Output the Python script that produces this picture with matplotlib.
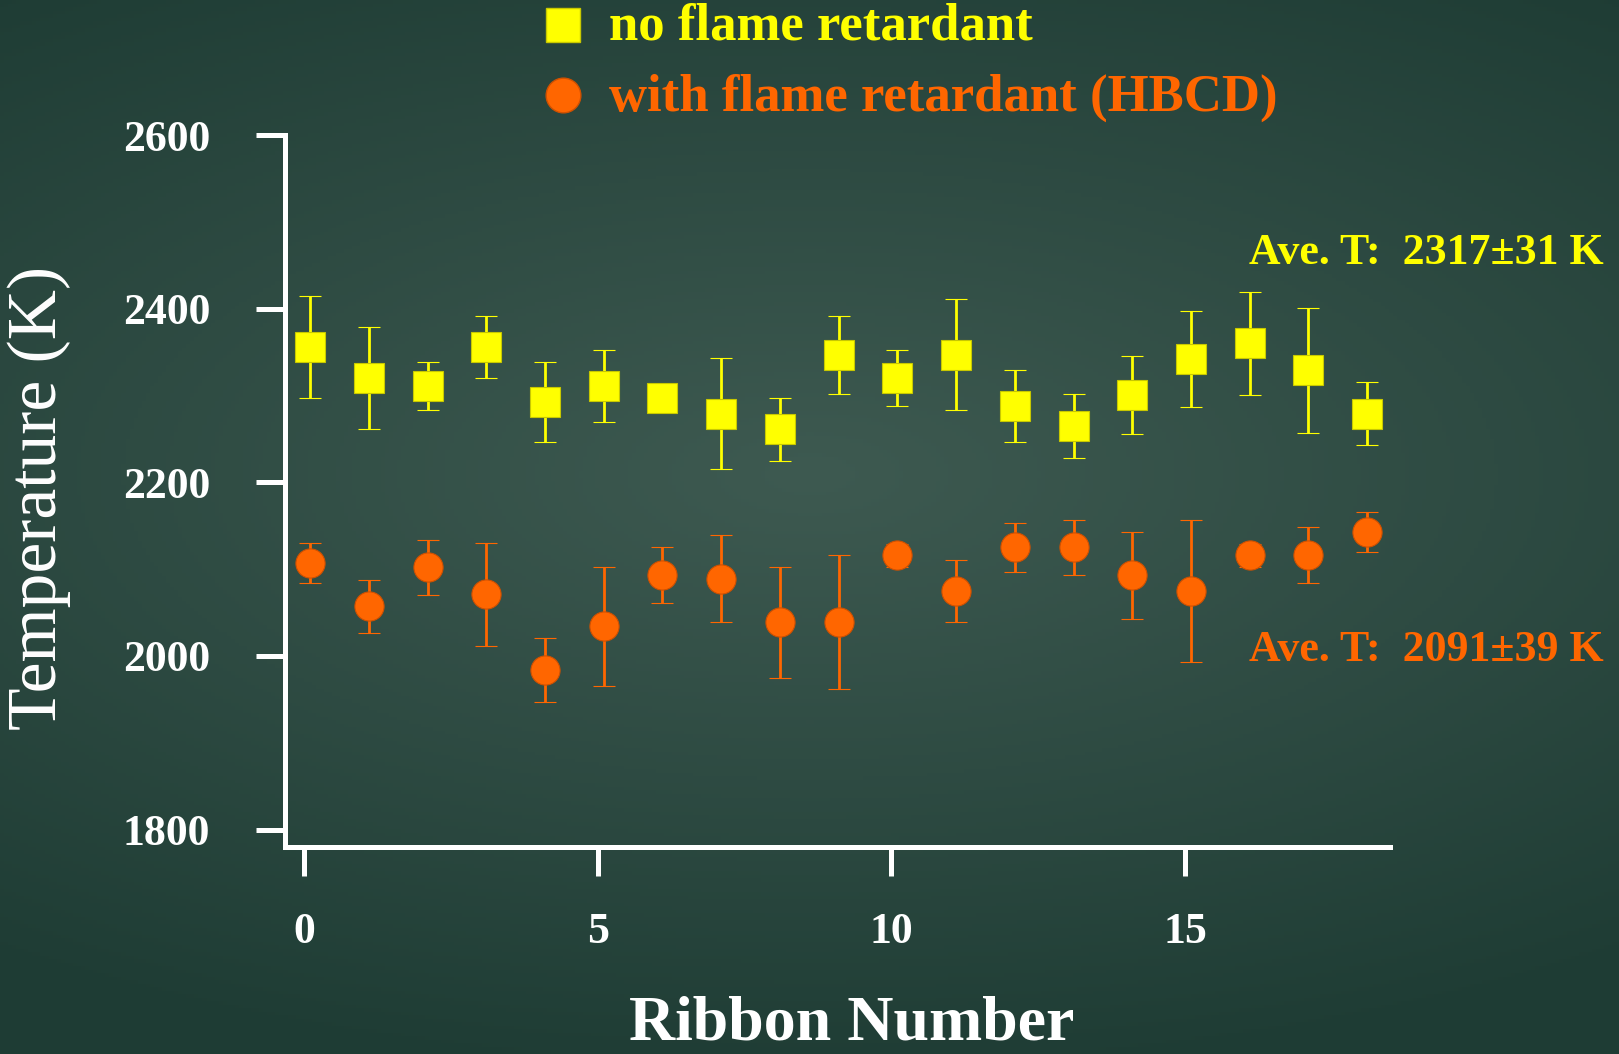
import numpy as np
import matplotlib
matplotlib.use("Agg")
import matplotlib.pyplot as plt

plt.rcParams['font.family'] = ['Liberation Serif', 'DejaVu Serif']

# datos
ribbon = [0.1, 1.1, 2.1, 3.1, 4.1, 5.1, 6.1, 7.1, 8.1, 9.1,
          10.1, 11.1, 12.1, 13.1, 14.1, 15.1, 16.1, 17.1, 18.1]
t_no = [2356, 2320, 2311, 2356, 2292, 2311, 2297, 2279, 2261, 2347,
        2320, 2347, 2288, 2265, 2301, 2342, 2360, 2329, 2279]
err_no = [59, 59, 28, 36, 46, 41, 0, 64, 36, 45,
          32, 64, 41, 37, 45, 55, 59, 72, 36]
t_hbcd = [2107, 2057, 2102, 2071, 1984, 2034, 2093, 2089, 2039, 2039,
          2116, 2075, 2125, 2125, 2093, 2075, 2116, 2116, 2143]
err_hbcd = [23, 31, 32, 59, 37, 69, 32, 50, 64, 77,
            13, 36, 28, 32, 50, 82, 13, 32, 23]

yellow = '#FFFF00'
orange = '#FF6600'

W, H = 1619, 1054
fig = plt.figure(figsize=(W / 100, H / 100), dpi=100)

# fondo verde con degradado radial
bg = fig.add_axes([0, 0, 1, 1], zorder=-1)
yy, xx = np.mgrid[0:1:300j, 0:1:400j]
r = np.sqrt(((xx - 0.5) / 0.85) ** 2 + ((yy - 0.45) / 0.58) ** 2)
r = np.clip(r, 0, 1)
c_in = np.array([62, 90, 81]) / 255
c_out = np.array([30, 60, 52]) / 255
img = c_in[None, None, :] * (1 - r[..., None]) + c_out[None, None, :] * r[..., None]
bg.imshow(img, aspect='auto', extent=[0, 1, 0, 1], origin='upper')
bg.axis('off')

# ejes principales
ax = fig.add_axes([285 / W, (H - 847) / H, (1390 - 285) / W, (847 - 135) / H])
ax.set_facecolor('none')
ax.errorbar(ribbon, t_no, yerr=err_no, fmt='s', color=yellow, ms=21,
            mec='#c8c800', mew=0.8, elinewidth=2, capsize=8, capthick=2.5)
ax.errorbar(ribbon, t_hbcd, yerr=err_hbcd, fmt='o', color=orange, ms=21,
            mec='#d05000', mew=0.8, elinewidth=2, capsize=8, capthick=2.5)

ax.set_xlim(-0.329, 18.49)
ax.set_ylim(1780, 2600)
ax.set_xticks([0, 5, 10, 15])
ax.set_yticks([1800, 2000, 2200, 2400, 2600])
for s in ['top', 'right']:
    ax.spines[s].set_visible(False)
for s in ['left', 'bottom']:
    ax.spines[s].set_color('white')
    ax.spines[s].set_linewidth(3.6)
ax.tick_params(axis='both', colors='white', length=21, width=3.6,
               labelsize=31.5)
ax.tick_params(axis='x', pad=26)
ax.tick_params(axis='y', pad=33)
for lab in ax.get_xticklabels() + ax.get_yticklabels():
    lab.set_fontweight('bold')

# textos
fig.text(852 / W, 1 / H, 'Ribbon Number', color='white', fontsize=46,
         fontweight='bold', ha='center', va='bottom')
fig.text(39 / W, 1 - 498 / H, 'Temperature (K)', color='white', fontsize=50,
         rotation=90, ha='center', va='center')

fig.text(1249 / W, 1 - 253 / H, 'Ave. T:  2317\u00b131 K', color=yellow,
         fontsize=31.6, fontweight='bold', va='center')
fig.text(1249 / W, 1 - 650 / H, 'Ave. T:  2091\u00b139 K', color=orange,
         fontsize=31.6, fontweight='bold', va='center')

# leyenda
fig.lines.append(plt.Line2D([563 / W], [1 - 25 / H], marker='s', ms=24,
                            color=yellow, mec='#c8c800', transform=fig.transFigure))
fig.lines.append(plt.Line2D([563 / W], [1 - 95 / H], marker='o', ms=25,
                            color=orange, mec='#d05000', transform=fig.transFigure))
fig.text(609 / W, 1 - 26 / H, 'no flame retardant', color=yellow,
         fontsize=38, fontweight='bold', va='center')
fig.text(609 / W, 1 - 98 / H, 'with flame retardant (HBCD)', color=orange,
         fontsize=38, fontweight='bold', va='center')

fig.savefig('out.png', dpi=100)
